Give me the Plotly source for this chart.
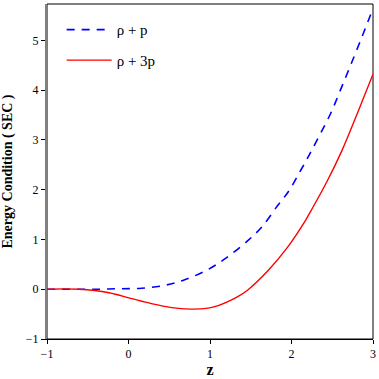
import plotly.graph_objects as go

# values
z_blue = [-1.0, -0.65, -0.37, -0.12, 0.16, 0.45, 0.69, 0.98, 1.20, 1.46, 1.63, 1.83,
          1.97, 2.11, 2.215, 2.34, 2.48, 2.60, 2.72, 2.86, 3.0]
rho_p = [0.0, 0.0, 0.0, 0.01, 0.02, 0.08, 0.19, 0.40, 0.63, 0.97, 1.24, 1.68,
         1.98, 2.38, 2.69, 3.08, 3.53, 4.0, 4.48, 5.05, 5.64]

z_red = [-1.0, -0.61, -0.24, 0.04, 0.28, 0.53, 0.75, 0.98, 1.10, 1.22, 1.33, 1.46,
         1.71, 1.95, 2.17, 2.24, 2.44, 2.62, 2.80, 3.0]
rho_3p = [0.0, 0.0, -0.07, -0.19, -0.29, -0.37, -0.40, -0.38, -0.33, -0.25, -0.16, -0.02,
          0.37, 0.84, 1.38, 1.58, 2.18, 2.79, 3.50, 4.32]

y_ticks = [-1, 0, 1, 2, 3, 4, 5]
x_ticks = [-1, 0, 1, 2, 3]

serif = "Liberation Serif, Times New Roman, serif"

fig = go.Figure()
fig.add_trace(go.Scatter(
    x=z_blue, y=rho_p, mode="lines", name="ρ + p", legendgroup="a",
    line=dict(color="blue", width=1.6, dash="8px,7px", shape="spline", smoothing=1),
))
fig.add_trace(go.Scatter(
    x=z_red, y=rho_3p, mode="lines", name="ρ + 3p", legendgroup="b",
    line=dict(color="red", width=1.4, shape="spline", smoothing=1),
))

# frame round the plot area
fig.add_shape(type="rect", xref="paper", yref="paper", x0=0, y0=0, x1=1, y1=1,
              line=dict(color="black", width=1), layer="below")

fig.update_layout(
    width=379, height=379,
    margin=dict(l=47, r=3, t=4, b=40),
    plot_bgcolor="white", paper_bgcolor="white",
    font=dict(family=serif, size=12, color="black"),
    showlegend=True,
    legend=dict(x=0.045, y=0.972, xanchor="left", yanchor="top",
                bgcolor="rgba(0,0,0,0)", font=dict(size=15, family=serif),
                tracegroupgap=8, itemwidth=45),
    xaxis=dict(range=[-1, 3], tickvals=x_ticks, ticks="outside", ticklen=4,
               tickcolor="black", showgrid=False, zeroline=False,
               showline=True, linecolor="black", linewidth=1,
               title=dict(text="<b>z</b>", font=dict(size=16, family=serif), standoff=2)),
    yaxis=dict(range=[-1, 5.73], tickvals=y_ticks, ticks="outside", ticklen=4,
               tickcolor="black", showgrid=False, zeroline=False,
               showline=True, linecolor="gray", linewidth=2,
               title=dict(text="<b>Energy Condition ( SEC )</b>",
                          font=dict(size=14, family=serif), standoff=10)),
)

fig.write_html("out.html", config={"displayModeBar": False},
               post_script="document.body.style.margin='0';")
